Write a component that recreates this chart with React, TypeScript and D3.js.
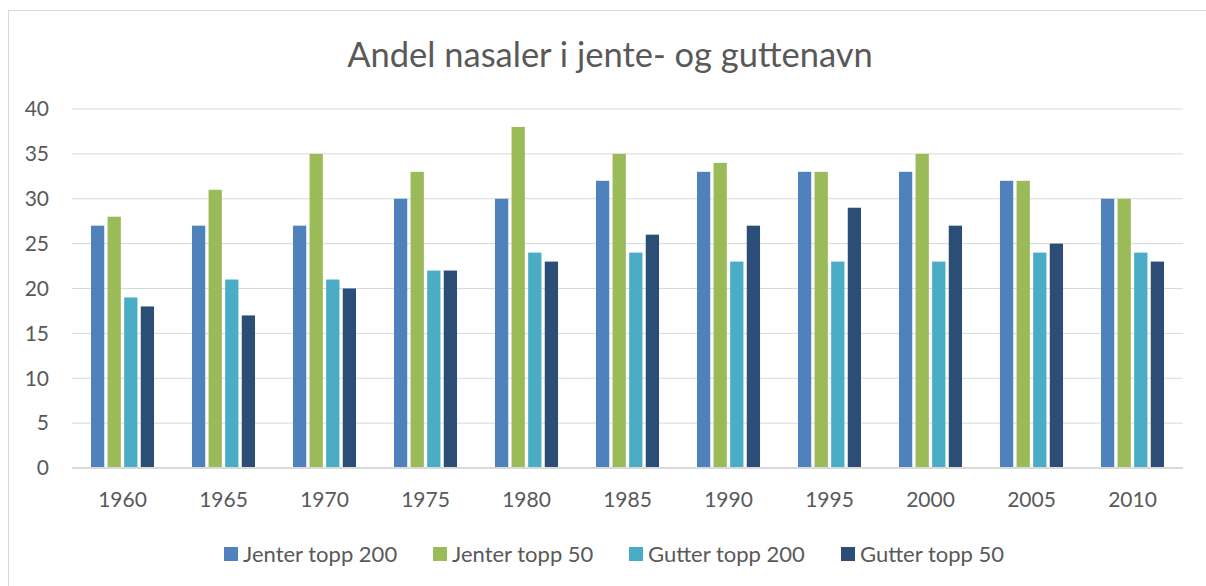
import * as d3 from "d3";
import React from "react";
import { useRef, useEffect } from "react";

// values
const years = ["1960", "1965", "1970", "1975", "1980", "1985", "1990", "1995", "2000", "2005", "2010"];
const seriesNames = ["Jenter topp 200", "Jenter topp 50", "Gutter topp 200", "Gutter topp 50"];
const jenter200 = [27, 27, 27, 30, 30, 32, 33, 33, 33, 32, 30];
const jenter50 = [28, 31, 35, 33, 38, 35, 34, 33, 35, 32, 30];
const gutter200 = [19, 21, 21, 22, 24, 24, 23, 23, 23, 24, 24];
const gutter50 = [18, 17, 20, 22, 23, 26, 27, 29, 27, 25, 23];
const yTicks = [0, 5, 10, 15, 20, 25, 30, 35, 40];
const colors = ["#4f81bd", "#9bbb59", "#4bacc6", "#2c4d75"];

const W = 1206;
const H = 586;
const FONT = "Lato, 'Open Sans', sans-serif";

const App = () => {
  const ref = useRef<SVGSVGElement>(null);

  useEffect(() => {
    const svg = d3.select(ref.current);
    svg.selectAll("*").remove();

    const margin = { left: 72, right: W - 1183, top: 109, bottom: H - 468 };

    // chart frame
    svg.append("rect")
      .attr("x", 8.5).attr("y", 10.5)
      .attr("width", W).attr("height", H)
      .attr("fill", "#fff")
      .attr("stroke", "#d9d9d9");

    const x0 = d3.scaleBand().domain(years)
      .range([margin.left, W - margin.right])
      .paddingInner(0.31).paddingOuter(0.155);
    const x1 = d3.scaleBand().domain(seriesNames)
      .range([0, x0.bandwidth()])
      .padding(0.2);
    const y = d3.scaleLinear().domain([0, 40]).range([H - margin.bottom, margin.top]);

    // grid
    svg.append("g").selectAll("line").data(yTicks.filter(t => t > 0)).enter().append("line")
      .attr("x1", margin.left).attr("x2", W - margin.right)
      .attr("y1", d => y(d)).attr("y2", d => y(d))
      .attr("stroke", "#d9d9d9").attr("stroke-width", 1);

    // y labels
    svg.append("g").selectAll("text").data(yTicks).enter().append("text")
      .attr("x", 49).attr("y", d => y(d))
      .attr("dy", "0.35em")
      .attr("text-anchor", "end")
      .attr("font-family", FONT).attr("font-size", 21).attr("fill", "#595959")
      .text(d => d);

    // bars
    const table = [jenter200, jenter50, gutter200, gutter50];
    const groups = svg.append("g").selectAll("g").data(years).enter().append("g")
      .attr("transform", d => `translate(${x0(d)},0)`);
    groups.selectAll("rect")
      .data((d, i) => table.map((s, k) => ({ name: seriesNames[k], value: s[i], k })))
      .enter().append("rect")
      .attr("x", d => x1(d.name) as number)
      .attr("width", x1.bandwidth())
      .attr("y", d => y(d.value))
      .attr("height", d => y(0) - y(d.value))
      .attr("fill", d => colors[d.k]);

    // x axis line
    svg.append("line")
      .attr("x1", margin.left).attr("x2", W - margin.right)
      .attr("y1", y(0)).attr("y2", y(0))
      .attr("stroke", "#d9d9d9").attr("stroke-width", 2);

    // x labels
    svg.append("g").selectAll("text").data(years).enter().append("text")
      .attr("x", d => (x0(d) as number) + x0.bandwidth() / 2)
      .attr("y", 500).attr("dy", "0.35em")
      .attr("text-anchor", "middle")
      .attr("font-family", FONT).attr("font-size", 21).attr("fill", "#595959")
      .text(d => d);

    // title
    svg.append("text")
      .attr("x", 610).attr("y", 67)
      .attr("text-anchor", "middle")
      .attr("font-family", FONT).attr("font-size", 34.5).attr("fill", "#595959")
      .text("Andel nasaler i jente- og guttenavn");

    // legend
    const legendX = [224, 433, 629, 841];
    const legend = svg.append("g").selectAll("g").data(seriesNames).enter().append("g")
      .attr("transform", (d, i) => `translate(${legendX[i]},554)`);
    legend.append("rect")
      .attr("x", 0).attr("y", -7).attr("width", 14).attr("height", 14)
      .attr("fill", (d, i) => colors[i]);
    legend.append("text")
      .attr("x", 19).attr("y", 0).attr("dy", "0.35em")
      .attr("font-family", FONT).attr("font-size", 22).attr("fill", "#595959")
      .text(d => d);
  }, []);

  return (
    <svg ref={ref} width={W} height={H} style={{ position: "absolute", left: 0, top: 0 }} />
  );
};

export default App;
